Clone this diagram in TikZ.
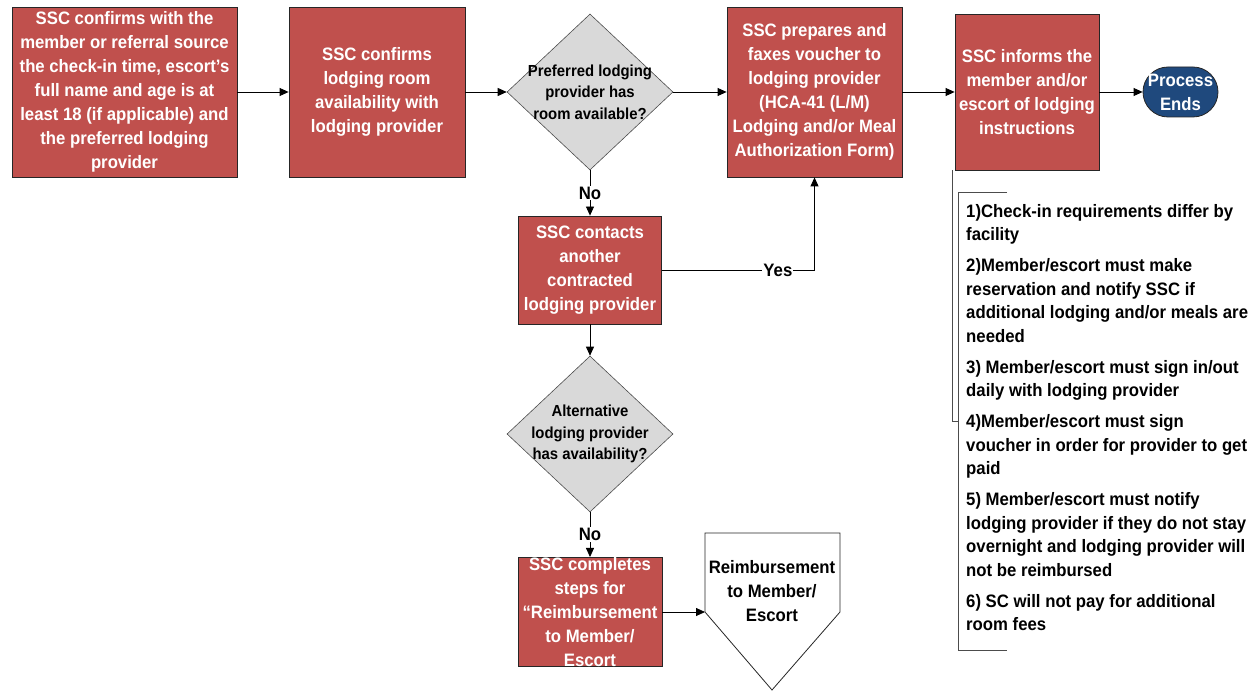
\documentclass[tikz,border=0pt]{standalone}
\usepackage{fontspec}
\setmainfont{Liberation Sans}[FakeStretch=0.93]
\usepackage{tikz}
\usetikzlibrary{shapes.geometric, arrows.meta, positioning}
\definecolor{SSC_Red}{HTML}{C0504D}
\definecolor{SSC_Gray}{HTML}{D9D9D9}
\definecolor{SSC_Navy}{HTML}{1F497D}
\newcommand{\boxfont}{\bfseries\fontsize{18}{24}\selectfont}
\newcommand{\qfont}{\bfseries\fontsize{16}{21.5}\selectfont}
\newcommand{\notefont}{\bfseries\fontsize{18}{23.5}\selectfont}

\begin{document}
\begin{tikzpicture}[x=1pt, y=-1pt,
    stepbox/.style={draw=black!85, line width=0.8pt, fill=SSC_Red, text=white, font=\boxfont, align=center, inner sep=0pt},
    decision/.style={diamond, draw=black!70, line width=0.6pt, fill=SSC_Gray, inner sep=0pt, minimum width=166pt, minimum height=156pt},
    qtext/.style={font=\qfont, align=center, inner sep=0pt},
    flow/.style={-{Triangle[length=9pt, width=8pt]}, line width=0.8pt},
    lbl/.style={fill=white, font=\boxfont, inner sep=1pt}]

    \useasboundingbox (0,0) rectangle (1260,692);

    % === Top row, all centred on y = 92 ===
    \node[stepbox, minimum width=225pt, minimum height=170pt] (confirm) at (124.5,92)
        {SSC confirms with the\\member or referral source\\the check-in time, escort’s\\full name and age is at\\least 18 (if applicable) and\\the preferred lodging\\provider};
    \node[stepbox, minimum width=176pt, minimum height=170pt] (avail) at (377,92)
        {SSC confirms\\lodging room\\availability with\\lodging provider};
    \node[decision] (prefq) at (590,92) {};
    \node[qtext] (prefqtxt) at (prefq) {Preferred lodging\\provider has\\room available?};
    \node[stepbox, minimum width=175pt, minimum height=170pt] (voucher) at (814.5,92)
        {SSC prepares and\\faxes voucher to\\lodging provider\\(HCA-41 (L/M)\\Lodging and/or Meal\\Authorization Form)};
    \node[stepbox, minimum width=144pt, minimum height=156pt] (inform) at (1027,92)
        {SSC informs the\\member and/or\\escort of lodging\\instructions};
    \node[stepbox, fill=SSC_Navy, rounded corners=25pt, minimum width=75pt, minimum height=50pt] (ends) at (1180.5,92)
        {Process\\Ends};

    % === Middle column, x = 590 ===
    \node[stepbox, minimum width=143pt, minimum height=108pt] (contact) at (590,270)
        {SSC contacts\\another\\contracted\\lodging provider};
    \node[decision] (altq) at (590,434) {};
    \node[qtext] (altqtxt) at (altq) {Alternative\\lodging provider\\has availability?};
    \node[stepbox, minimum width=144pt, minimum height=108pt] (reimb) at (590,612)
        {SSC completes\\steps for\\“Reimbursement\\to Member/\\Escort};

    % === Off-page connector ===
    \draw[draw=black!85, line width=0.8pt, fill=white] (705,533) -- (840,533) -- (840,612) -- (772,690) -- (705,612) -- cycle;
    \coordinate (offin) at (705,612);
    \node[font=\boxfont, align=center, inner sep=0pt] (offtxt) at (772,591) {Reimbursement\\to Member/\\Escort};

    % === Connectors ===
    \draw[flow] (confirm.east) -- (avail.west);
    \draw[flow] (avail.east) -- (prefq.west);
    \draw[flow] (prefq.east) -- (voucher.west);
    \draw[flow] (voucher.east) -- (inform.west);
    \draw[flow] (inform.east) -- (ends.west);
    \draw[flow] (prefq.south) -- node[lbl] {No} (contact.north);
    \draw[flow] (contact.east) -| node[lbl, pos=0.38] {Yes} (voucher.south);
    \draw[flow] (contact.south) -- (altq.north);
    \draw[flow] (altq.south) -- node[lbl] {No} (reimb.north);
    \draw[flow] (reimb.east) -- (offin);

    % === Notes bracket ===
    \coordinate (brtop) at (1007,192);
    \coordinate (brmid) at (958,421);
    \coordinate (brbot) at (1007,650);
    \draw[black!70, line width=0.8pt] (brtop) -- (958,192) -- (958,650) -- (brbot);
    \draw[black!70, line width=0.8pt] ([xshift=-2pt]inform.south west) |- (brmid);
    \node[font=\notefont, align=left, anchor=north west, inner sep=0pt] (notes) at (966,204)
        {1)Check-in requirements differ by\\facility\\[7.5pt]
         2)Member/escort must make\\reservation and notify SSC if\\additional lodging and/or meals are\\needed\\[7.5pt]
         3) Member/escort must sign in/out\\daily with lodging provider\\[7.5pt]
         4)Member/escort must sign\\voucher in order for provider to get\\paid\\[7.5pt]
         5) Member/escort must notify\\lodging provider if they do not stay\\overnight and lodging provider will\\not be reimbursed\\[7.5pt]
         6) SC will not pay for additional\\room fees};

\end{tikzpicture}
\end{document}
